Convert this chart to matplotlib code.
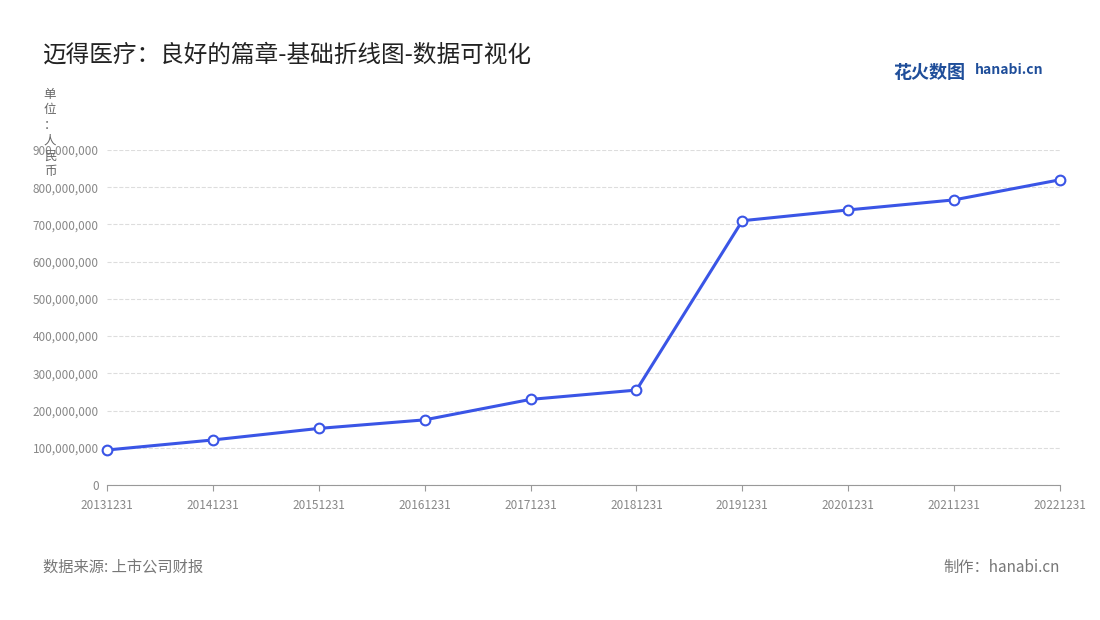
import matplotlib.pyplot as plt
from matplotlib.ticker import FuncFormatter

plt.rcParams['font.family'] = ['Noto Sans CJK SC', 'DejaVu Sans']

dates = ["20131231", "20141231", "20151231", "20161231", "20171231",
         "20181231", "20191231", "20201231", "20211231", "20221231"]
revenue = [94e6, 121e6, 152e6, 175e6, 230e6, 255e6, 710e6, 739e6, 766e6, 820e6]

fig = plt.figure(figsize=(11, 6.2), dpi=100)
ax = fig.add_axes([107 / 1100, 1 - 485 / 620, (1060 - 107) / 1100, 335 / 620])

x = range(len(dates))
ax.plot(x, revenue, color='#3a55e6', linewidth=2.2, marker='o', markersize=7,
        markerfacecolor='white', markeredgecolor='#3a55e6', markeredgewidth=1.5,
        zorder=3, clip_on=False)

ax.set_xlim(0, len(dates) - 1)
ax.set_ylim(0, 900e6)
ax.set_yticks([i * 100e6 for i in range(10)])
ax.yaxis.set_major_formatter(FuncFormatter(lambda v, p: f"{int(v):,}"))
ax.set_xticks(list(x))
ax.set_xticklabels(dates)
ax.tick_params(axis='both', labelsize=8.5, colors='#888888', length=0, pad=6)
ax.tick_params(axis='x', length=4, color='#999999')
ax.grid(axis='y', linestyle='--', color='#dddddd', linewidth=0.8)
for s in ['top', 'right', 'left']:
    ax.spines[s].set_visible(False)
ax.spines['bottom'].set_color('#999999')

fig.text(43 / 1100, 1 - 55 / 620, "迈得医疗：良好的篇章-基础折线图-数据可视化",
         fontsize=17, color='#222222', va='center')
fig.text(50 / 1100, 1 - 88 / 620, "单\n位\n：\n人\n民\n币", fontsize=9,
         color='#666666', va='top', ha='center', linespacing=1.25)
fig.text(43 / 1100, 1 - 567 / 620, "数据来源: 上市公司财报", fontsize=11, color='#777777', va='center')
fig.text(1060 / 1100, 1 - 567 / 620, "制作：hanabi.cn", fontsize=11, color='#777777',
         va='center', ha='right')
fig.text(893 / 1100, 1 - 72 / 620, "花火数图", fontsize=13, color='#1f4e9a',
         va='center', fontweight='bold')
fig.text(975 / 1100, 1 - 70 / 620, "hanabi.cn", fontsize=10, color='#1f4e9a',
         va='center', fontweight='bold')

fig.savefig("out.png", dpi=100)
